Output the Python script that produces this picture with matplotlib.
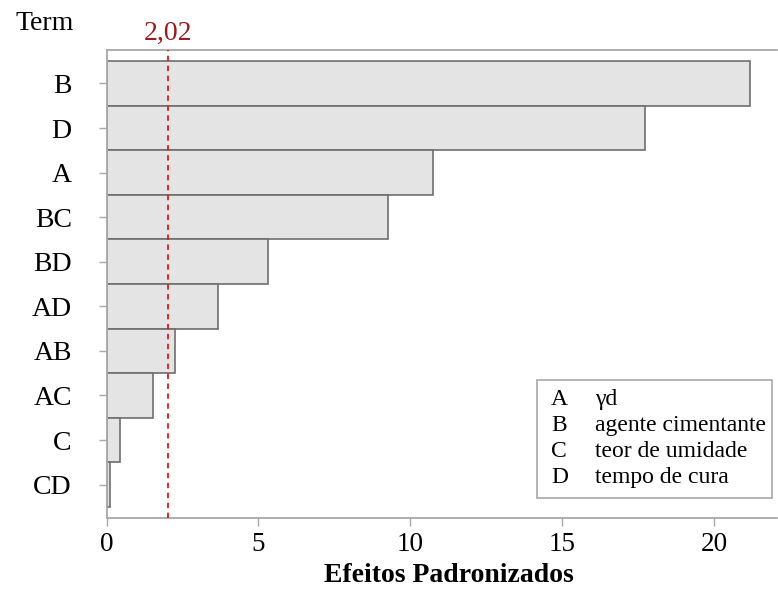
import matplotlib
matplotlib.use("Agg")
import matplotlib.pyplot as plt
from matplotlib.patches import Rectangle

plt.rcParams['font.family'] = ['Liberation Serif', 'DejaVu Serif']

# Pareto chart of standardized effects
terms = ["B", "D", "A", "BC", "BD", "AD", "AB", "AC", "C", "CD"]
effects = [21.18, 17.73, 10.74, 9.27, 5.33, 3.68, 2.27, 1.54, 0.44, 0.10]
critical_value = 2.02
critical_label = "2,02"
xticks = [0, 5, 10, 15, 20]
factor_codes = ["A", "B", "C", "D"]
factor_names = ["γd", "agente cimentante", "teor de umidade", "tempo de cura"]

W, H = 778, 590
fig = plt.figure(figsize=(W / 100, H / 100), dpi=100)
ax_top, ax_bottom = 50, 518
ax = fig.add_axes([106.5 / W, 1 - ax_bottom / H, (777 - 106.5) / W,
                   (ax_bottom - ax_top) / H])

spine_col = "#a8a8a8"
ypos = list(range(len(terms)))
ax.barh(ypos, effects, height=1.0, color="#e4e4e4", edgecolor="#6e6e6e",
        linewidth=1.2, zorder=2)
ax.axvline(critical_value, color="#e0191b", linestyle=(0, (3, 2.5)),
           linewidth=1.3, zorder=3)

ax.set_ylim(len(terms) - 0.25, -0.75)
ax.set_xlim(0, 22.07)
ax.set_yticks(ypos)
ax.set_yticklabels(terms, fontsize=20)
ax.set_xticks(xticks)
ax.set_xticklabels([str(v) for v in xticks], fontsize=19.5)
ax.tick_params(axis="y", length=6, width=1, color=spine_col, pad=19)
ax.tick_params(axis="x", length=6, width=1, color=spine_col, pad=4)

for side in ("left", "bottom", "top"):
    ax.spines[side].set_color(spine_col)
    ax.spines[side].set_linewidth(1.3)
ax.spines["right"].set_visible(False)

ax.set_xlabel("Efeitos Padronizados", fontsize=20, fontweight="bold")
ax.xaxis.set_label_coords(0.5105, -0.097)

fig.text(15 / W, 1 - 23 / H, "Term", fontsize=20, ha="left", va="center")
ax.text(critical_value, 1 + 17 / (ax_bottom - ax_top), critical_label,
        transform=ax.get_xaxis_transform(), color="#9b1b1e", fontsize=20,
        ha="center", va="center")

# Factor key box
box = Rectangle((537 / W, 1 - 498 / H), (772 - 537) / W, (498 - 380) / H,
                transform=fig.transFigure, facecolor="white",
                edgecolor="#a8a8a8", linewidth=1.2, zorder=5)
fig.patches.append(box)
row_baselines = [405, 431, 457, 483]
for code, name, y in zip(factor_codes, factor_names, row_baselines):
    fig.text(551 / W, 1 - y / H, code, fontsize=17, ha="left", va="baseline",
             zorder=6)
    fig.text(595 / W, 1 - y / H, name, fontsize=17, ha="left", va="baseline",
             zorder=6)

fig.savefig("out.png", dpi=100)
